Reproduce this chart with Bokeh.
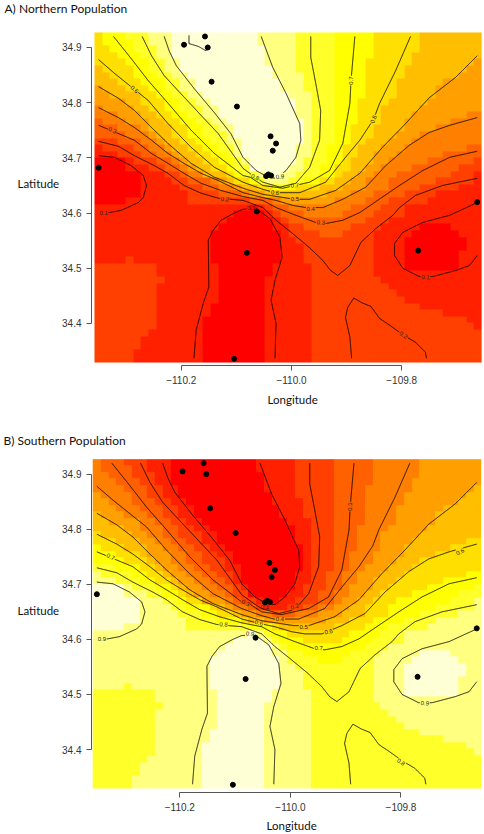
from bokeh.plotting import figure
from bokeh.models import Range1d, LinearColorMapper, FixedTicker, Label
from bokeh.layouts import column
from bokeh.core.properties import value
from bokeh.embed import file_html
from bokeh.resources import INLINE
import numpy as np

PALETTE = ["#FF0000","#FF2000","#FF4000","#FF6000","#FF8000","#FF9F00","#FFBF00","#FFDF00","#FFFF00","#FFFF2A","#FFFF80","#FFFFD5"]
LON_EXTENT = (-110.3575, -109.655)
LAT_EXTENT = (34.3293, 34.9272)
LON_TICKS = [-110.2, -110.0, -109.8]
LON_TICK_LABELS = ["\u2212110.2", "\u2212110.0", "\u2212109.8"]
LAT_TICKS = [34.4, 34.5, 34.6, 34.7, 34.8, 34.9]
LAT_TICK_LABELS = ["34.4", "34.5", "34.6", "34.7", "34.8", "34.9"]

# rows top to bottom; "class:end column"
NORTH_ROWS = [
"7:1 8:4 9:7 10:10 11:21 10:26 9:31 8:36 7:42 6:50",
"7:1 8:5 9:7 10:10 11:21 10:26 9:31 8:36 7:42 6:50",
"7:2 8:5 9:8 10:10 11:22 10:26 9:31 8:36 7:42 6:50",
"7:3 8:6 9:8 10:10 11:22 10:26 9:31 8:36 7:41 6:50",
"7:4 8:7 9:9 10:11 11:22 10:26 9:31 8:35 7:41 6:49 5:50",
"6:1 7:5 8:7 9:9 10:11 11:23 10:26 9:31 8:35 7:40 6:48 5:50",
"6:2 7:5 8:8 9:10 10:12 11:23 10:27 9:31 8:35 7:40 6:47 5:50",
"6:3 7:6 8:9 9:11 10:13 11:24 10:27 9:31 8:35 7:39 6:45 5:50",
"5:1 6:4 7:7 8:9 9:11 10:13 11:24 10:27 9:31 8:35 7:39 6:44 5:50",
"5:2 6:6 7:8 8:10 9:12 10:14 11:25 10:28 9:31 8:35 7:39 6:44 5:50",
"5:4 6:6 7:9 8:11 9:13 10:15 11:26 10:28 9:31 8:34 7:38 6:43 5:50",
"4:1 5:5 6:7 7:9 8:11 9:14 10:16 11:26 10:28 9:31 8:34 7:37 6:42 5:50",
"4:3 5:6 6:8 7:10 8:12 9:14 10:16 11:26 10:28 9:31 8:34 7:37 6:41 5:48 4:50",
"3:1 4:4 5:7 6:9 7:11 8:13 9:15 10:17 11:27 10:28 9:31 8:34 7:37 6:40 5:46 4:50",
"3:3 4:6 5:7 6:10 7:12 8:14 9:16 10:18 11:27 10:28 9:31 8:33 7:36 6:40 5:44 4:50",
"3:4 4:7 5:8 6:10 7:12 8:14 9:17 10:18 11:27 10:28 9:31 8:33 7:36 6:39 5:42 4:50",
"2:3 3:6 4:8 5:9 6:11 7:13 8:15 9:17 10:19 11:27 10:28 9:31 8:33 7:35 6:38 5:41 4:50",
"1:1 2:5 3:7 4:9 5:10 6:12 7:14 8:16 9:18 10:19 11:26 10:28 9:30 8:32 7:34 6:37 5:40 4:48 3:50",
"1:3 2:6 3:8 4:10 5:11 6:13 7:15 8:17 9:18 10:19 11:26 10:28 9:30 8:32 7:34 6:36 5:39 4:45 3:50",
"0:4 1:5 2:8 3:10 4:11 5:12 6:14 7:16 8:18 9:19 10:20 11:26 10:27 9:30 8:32 7:33 6:36 5:38 4:43 3:49 2:50",
"0:4 1:7 2:9 3:11 4:12 5:13 6:15 7:17 8:18 9:20 11:25 10:27 9:29 8:31 7:33 6:35 5:37 4:41 3:47 2:50",
"0:6 1:9 2:11 3:12 4:14 6:17 7:18 8:19 9:21 10:22 11:24 10:26 9:29 8:31 7:32 6:34 5:36 4:39 3:46 2:49 1:50",
"0:6 1:10 2:12 3:15 4:16 5:17 6:18 7:20 8:21 9:22 10:25 9:27 8:29 7:31 6:33 5:35 4:38 3:44 2:49 1:50",
"0:6 1:11 2:14 3:16 4:18 5:19 6:21 7:23 8:26 7:29 6:32 5:35 4:38 3:42 2:47 1:50",
"0:6 1:12 2:16 3:19 4:20 5:22 6:30 5:33 4:36 3:40 2:44 1:50",
"0:4 1:12 2:20 3:23 4:24 5:31 4:35 3:38 2:43 1:50",
"1:20 0:21 1:22 2:23 3:25 4:33 3:37 2:40 1:50",
"1:18 0:22 1:23 2:24 3:27 4:32 3:36 2:40 1:50",
"1:17 0:23 1:24 2:25 3:35 2:38 1:50",
"1:16 0:23 1:25 2:27 3:33 2:37 1:42 0:46 1:50",
"1:15 0:24 1:25 2:29 3:32 2:36 1:41 0:47 1:50",
"1:15 0:24 1:26 2:36 1:40 0:48 1:50",
"1:15 0:24 1:27 2:36 1:40 0:48 1:50",
"1:15 0:24 1:27 2:36 1:40 0:47 1:50",
"1:4 2:5 1:15 0:24 1:27 2:36 1:40 0:47 1:50",
"2:8 1:16 0:23 1:28 2:36 1:40 0:47 1:50",
"2:8 1:16 0:23 1:28 2:36 1:50",
"2:9 1:16 0:22 1:28 2:37 1:50",
"2:8 1:16 0:22 1:28 2:38 1:50",
"2:8 1:16 0:22 1:28 2:39 1:50",
"2:8 1:16 0:22 1:28 2:40 1:50",
"2:8 1:15 0:22 1:28 2:42 1:50",
"2:8 1:15 0:22 1:28 2:45 1:50",
"2:8 1:14 0:22 1:28 2:48 1:50",
"2:8 1:14 0:22 1:28 2:49 1:50",
"2:7 1:14 0:22 1:28 2:50",
"2:6 1:14 0:22 1:28 2:50",
"2:6 1:14 0:22 1:28 2:50",
"2:5 1:14 0:22 1:28 2:50",
"2:5 1:14 0:22 1:28 2:50",
]
SOUTH_ROWS = [
"4:1 3:4 2:7 1:10 0:21 1:26 2:31 3:36 4:42 5:50",
"4:1 3:5 2:7 1:10 0:21 1:26 2:31 3:36 4:42 5:50",
"4:2 3:5 2:8 1:10 0:22 1:26 2:31 3:36 4:42 5:50",
"4:3 3:6 2:8 1:10 0:22 1:26 2:31 3:36 4:41 5:50",
"4:4 3:7 2:9 1:11 0:22 1:26 2:31 3:35 4:41 5:49 6:50",
"5:1 4:5 3:7 2:9 1:11 0:23 1:26 2:31 3:35 4:40 5:48 6:50",
"5:2 4:5 3:8 2:10 1:12 0:23 1:27 2:31 3:35 4:40 5:47 6:50",
"5:3 4:6 3:9 2:11 1:13 0:24 1:27 2:31 3:35 4:39 5:45 6:50",
"6:1 5:4 4:7 3:9 2:11 1:13 0:24 1:27 2:31 3:35 4:39 5:44 6:50",
"6:2 5:6 4:8 3:10 2:12 1:14 0:25 1:28 2:31 3:35 4:39 5:44 6:50",
"6:4 5:6 4:9 3:11 2:13 1:15 0:26 1:28 2:31 3:34 4:38 5:43 6:50",
"7:1 6:5 5:7 4:9 3:11 2:14 1:16 0:26 1:28 2:31 3:34 4:37 5:42 6:50",
"7:3 6:6 5:8 4:10 3:12 2:14 1:16 0:26 1:28 2:31 3:34 4:37 5:41 6:48 7:50",
"8:1 7:4 6:7 5:9 4:11 3:13 2:15 1:17 0:27 1:28 2:31 3:34 4:37 5:40 6:46 7:50",
"8:3 7:6 6:7 5:10 4:12 3:14 2:16 1:18 0:27 1:28 2:31 3:33 4:36 5:40 6:44 7:50",
"8:4 7:7 6:8 5:10 4:12 3:14 2:17 1:18 0:27 1:28 2:31 3:33 4:36 5:39 6:42 7:50",
"9:3 8:6 7:8 6:9 5:11 4:13 3:15 2:17 1:19 0:27 1:28 2:31 3:33 4:35 5:38 6:41 7:50",
"10:1 9:5 8:7 7:9 6:10 5:12 4:14 3:16 2:18 1:19 0:26 1:28 2:30 3:32 4:34 5:37 6:40 7:48 8:50",
"10:3 9:6 8:8 7:10 6:11 5:13 4:15 3:17 2:18 1:19 0:26 1:28 2:30 3:32 4:34 5:36 6:39 7:45 8:50",
"11:4 10:5 9:8 8:10 7:11 6:12 5:14 4:16 3:18 2:19 1:20 0:26 1:27 2:30 3:32 4:33 5:36 6:38 7:43 8:49 9:50",
"11:4 10:7 9:9 8:11 7:12 6:13 5:15 4:17 3:18 2:20 0:25 1:27 2:29 3:31 4:33 5:35 6:37 7:41 8:47 9:50",
"11:6 10:9 9:11 8:12 7:14 5:17 4:18 3:19 2:21 1:22 0:24 1:26 2:29 3:31 4:32 5:34 6:36 7:39 8:46 9:49 10:50",
"11:6 10:10 9:12 8:15 7:16 6:17 5:18 4:20 3:21 2:22 1:25 2:27 3:29 4:31 5:33 6:35 7:38 8:44 9:49 10:50",
"11:6 10:11 9:14 8:16 7:18 6:19 5:21 4:23 3:26 4:29 5:32 6:35 7:38 8:42 9:47 10:50",
"11:6 10:12 9:16 8:19 7:20 6:22 5:30 6:33 7:36 8:40 9:44 10:50",
"11:4 10:12 9:20 8:23 7:24 6:31 7:35 8:38 9:43 10:50",
"10:20 11:21 10:22 9:23 8:25 7:33 8:37 9:40 10:50",
"10:18 11:22 10:23 9:24 8:27 7:32 8:36 9:40 10:50",
"10:17 11:23 10:24 9:25 8:35 9:38 10:50",
"10:16 11:23 10:25 9:27 8:33 9:37 10:42 11:46 10:50",
"10:15 11:24 10:25 9:29 8:32 9:36 10:41 11:47 10:50",
"10:15 11:24 10:26 9:36 10:40 11:48 10:50",
"10:15 11:24 10:27 9:36 10:40 11:48 10:50",
"10:15 11:24 10:27 9:36 10:40 11:47 10:50",
"10:4 9:5 10:15 11:24 10:27 9:36 10:40 11:47 10:50",
"9:8 10:16 11:23 10:28 9:36 10:40 11:47 10:50",
"9:8 10:16 11:23 10:28 9:36 10:50",
"9:9 10:16 11:22 10:28 9:37 10:50",
"9:8 10:16 11:22 10:28 9:38 10:50",
"9:8 10:16 11:22 10:28 9:39 10:50",
"9:8 10:16 11:22 10:28 9:40 10:50",
"9:8 10:15 11:22 10:28 9:42 10:50",
"9:8 10:15 11:22 10:28 9:45 10:50",
"9:8 10:14 11:22 10:28 9:48 10:50",
"9:8 10:14 11:22 10:28 9:49 10:50",
"9:7 10:14 11:22 10:28 9:50",
"9:6 10:14 11:22 10:28 9:50",
"9:6 10:14 11:22 10:28 9:50",
"9:5 10:14 11:22 10:28 9:50",
"9:5 10:14 11:22 10:28 9:50",
]

SITE_LON = [-110.195,-110.157,-110.152,-110.145,-110.099,-110.350,-110.038,-110.028,-110.034,-110.046,-110.042,-110.037,-109.663,-110.063,-110.081,-109.770,-110.104]
SITE_LAT = [34.905,34.920,34.900,34.838,34.793,34.682,34.739,34.726,34.713,34.667,34.670,34.668,34.620,34.603,34.528,34.532,34.336]

LON_01A = [-110.350,-110.321,-110.291,-110.269,-110.263,-110.269,-110.278,-110.309,-110.330,-110.350]
LAT_01A = [34.704,34.701,34.686,34.668,34.650,34.628,34.619,34.605,34.601,34.600]
LON_01B = [-110.177,-110.173,-110.160,-110.150,-110.151,-110.142,-110.128,-110.104,-110.088,-110.064,-110.039,-110.021,-110.017,-110.030,-110.037,-110.028,-110.030]
LAT_01B = [34.337,34.388,34.437,34.466,34.551,34.569,34.587,34.600,34.607,34.608,34.590,34.556,34.520,34.478,34.442,34.400,34.337]
LON_01C = [-109.663,-109.713,-109.762,-109.798,-109.813,-109.813,-109.798,-109.768,-109.744,-109.702,-109.677,-109.663]
LAT_01C = [34.619,34.596,34.583,34.565,34.545,34.523,34.500,34.485,34.485,34.496,34.505,34.523]
LON_02A = [-110.350,-110.314,-110.285,-110.249,-110.224,-110.195,-110.164,-110.133,-110.088,-110.052,-110.028,-109.998,-109.968,-109.943,-109.929,-109.916,-109.894,-109.874,-109.847,-109.816,-109.804,-109.775,-109.726,-109.663]
LAT_02A = [34.730,34.721,34.704,34.686,34.672,34.650,34.636,34.627,34.623,34.610,34.587,34.563,34.538,34.514,34.496,34.487,34.505,34.547,34.572,34.596,34.610,34.632,34.650,34.663]
LON_02B = [-109.891,-109.894,-109.902,-109.898,-109.887,-109.871,-109.856,-109.840,-109.822,-109.797,-109.775,-109.757,-109.755]
LAT_02B = [34.337,34.375,34.411,34.429,34.446,34.437,34.431,34.409,34.397,34.379,34.366,34.348,34.337]
LON_03 = [-110.350,-110.285,-110.254,-110.224,-110.195,-110.164,-110.128,-110.088,-110.052,-110.028,-109.992,-109.956,-109.938,-109.907,-109.876,-109.838,-109.804,-109.762,-109.713,-109.663]
LAT_03 = [34.759,34.732,34.708,34.690,34.672,34.654,34.641,34.630,34.623,34.610,34.596,34.583,34.581,34.587,34.601,34.627,34.650,34.677,34.701,34.712]
LON_04 = [-110.350,-110.314,-110.285,-110.254,-110.224,-110.195,-110.164,-110.133,-110.088,-110.052,-110.028,-109.998,-109.974,-109.943,-109.907,-109.865,-109.829,-109.786,-109.750,-109.713,-109.663]
LAT_04 = [34.791,34.773,34.755,34.732,34.708,34.690,34.672,34.659,34.637,34.628,34.623,34.614,34.610,34.610,34.625,34.647,34.686,34.723,34.746,34.759,34.773]
LON_05 = [-110.350,-110.314,-110.285,-110.254,-110.224,-110.182,-110.140,-110.088,-110.052,-109.994,-109.967,-109.920,-109.876,-109.835,-109.793,-109.750,-109.702,-109.663]
LAT_05 = [34.829,34.808,34.786,34.755,34.726,34.690,34.665,34.645,34.634,34.625,34.625,34.641,34.672,34.719,34.762,34.809,34.846,34.885]
LON_06 = [-110.350,-110.321,-110.285,-110.260,-110.224,-110.182,-110.140,-110.088,-110.052,-110.030,-109.985,-109.938,-109.902,-109.876,-109.851,-109.840,-109.811,-109.784]
LAT_06 = [34.878,34.853,34.824,34.804,34.762,34.719,34.683,34.656,34.643,34.637,34.637,34.656,34.701,34.732,34.770,34.799,34.858,34.920]
LON_07 = [-110.323,-110.291,-110.260,-110.224,-110.182,-110.140,-110.088,-110.075,-110.052,-110.016,-109.967,-109.931,-109.907,-109.894,-109.892,-109.885]
LAT_07 = [34.920,34.880,34.840,34.799,34.750,34.708,34.668,34.665,34.650,34.645,34.656,34.677,34.726,34.799,34.840,34.920]
LON_08 = [-110.271,-110.254,-110.231,-110.206,-110.164,-110.133,-110.088,-110.066,-110.052,-110.021,-109.992,-109.967,-109.949,-109.947,-109.956,-109.965,-109.965]
LAT_08 = [34.920,34.885,34.849,34.822,34.777,34.744,34.681,34.665,34.656,34.647,34.654,34.683,34.732,34.786,34.835,34.882,34.920]
LON_09 = [-110.231,-110.222,-110.209,-110.177,-110.140,-110.110,-110.088,-110.064,-110.043,-110.028,-110.010,-109.992,-109.983,-109.985,-110.010,-110.034,-110.055]
LAT_09 = [34.920,34.894,34.867,34.826,34.782,34.744,34.701,34.677,34.665,34.663,34.677,34.701,34.732,34.762,34.817,34.864,34.920]
LON_10 = [-110.186,-110.186,-110.169,-110.155,-110.150]
LAT_10 = [34.922,34.907,34.902,34.894,34.900]

LINES_LON = [LON_01A,LON_01B,LON_01C,LON_02A,LON_02B,LON_03,LON_04,LON_05,LON_06,LON_07,LON_08,LON_09,LON_10]
LINES_LAT = [LAT_01A,LAT_01B,LAT_01C,LAT_02A,LAT_02B,LAT_03,LAT_04,LAT_05,LAT_06,LAT_07,LAT_08,LAT_09,LAT_10]

NORTH_LABEL_TEXT = ["0.1","0.2","0.3","0.6","0.7","0.6","0.8","0.9","0.7","0.6","0.5","0.4","0.3","0.1","0.1","0.2"]
NORTH_LABEL_LON = [-110.341,-110.121,-110.325,-110.285,-109.892,-109.851,-110.066,-110.021,-109.994,-110.030,-109.994,-109.965,-109.947,-110.073,-109.757,-109.797]
NORTH_LABEL_LAT = [34.600,34.625,34.750,34.824,34.840,34.770,34.665,34.666,34.650,34.637,34.625,34.608,34.583,34.610,34.484,34.379]
NORTH_LABEL_ANGLE = [0,-3,-25,-40,90,70,-25,5,5,-5,0,0,-3,0,-3,-35]
NORTH_LABEL_LINE = [0,3,5,8,9,8,10,11,9,8,7,6,5,1,2,4]

SOUTH_LABEL_TEXT = ["0.7","0.8","0.9","0.3","0.4","0.5","0.6","0.2","0.1","0.3","0.6","0.9","0.6","0.7","0.9","0.8"]
SOUTH_LABEL_LON = [-110.325,-110.121,-110.341,-109.892,-110.019,-109.976,-109.693,-109.992,-110.046,-110.081,-110.057,-110.073,-109.931,-109.949,-109.757,-109.800]
SOUTH_LABEL_LAT = [34.750,34.627,34.600,34.841,34.637,34.623,34.759,34.660,34.659,34.666,34.630,34.610,34.614,34.585,34.484,34.377]
SOUTH_LABEL_ANGLE = [-25,-3,0,90,-5,0,25,20,0,-25,-15,-5,12,0,-5,-35]
SOUTH_LABEL_LINE = [5,3,0,9,8,7,6,10,11,9,6,1,6,5,2,4]


def expand(rows):
    out = []
    for row in rows:
        cells, start = [0] * 50, 0
        for part in row.split():
            c, end = part.split(":")
            for i in range(start, int(end)):
                cells[i] = int(c)
            start = int(end)
        out.append(cells)
    return np.array(out[::-1], dtype=float)


def cut(lon, lat, anchors, radius=0.0085):
    """split a contour where its printed label sits"""
    xs, ys = [], []
    for i in range(len(lon) - 1):
        n = max(2, int(np.hypot(lon[i+1]-lon[i], lat[i+1]-lat[i]) / 0.001))
        xs.extend(np.linspace(lon[i], lon[i+1], n, endpoint=False))
        ys.extend(np.linspace(lat[i], lat[i+1], n, endpoint=False))
    xs.append(lon[-1]); ys.append(lat[-1])
    xs, ys = np.array(xs), np.array(ys)
    keep = np.ones(len(xs), bool)
    for ax, ay in anchors:
        keep &= np.hypot(xs-ax, ys-ay) > radius
    return np.where(keep, xs, np.nan), np.where(keep, ys, np.nan)


def panel(rows, title, lt, llon, llat, lang, lline, nlines, height, top, bottom, left, xr, yr, titlepos, latpos, lonpos):
    p = figure(width=484, height=height, output_backend="svg", toolbar_location=None,
               x_range=Range1d(*xr), y_range=Range1d(*yr),
               min_border_left=left, min_border_right=2, min_border_top=top, min_border_bottom=bottom)
    p.outline_line_color = None
    p.grid.visible = False
    p.background_fill_color = "white"
    mapper = LinearColorMapper(palette=PALETTE, low=-0.5, high=11.5)
    p.image(image=[expand(rows)], x=LON_EXTENT[0], y=LAT_EXTENT[0],
            dw=LON_EXTENT[1]-LON_EXTENT[0], dh=LAT_EXTENT[1]-LAT_EXTENT[0], color_mapper=mapper)
    for i in range(nlines):
        anchors = [(a, b) for a, b, k in zip(llon, llat, lline) if k == i]
        x, y = cut(LINES_LON[i], LINES_LAT[i], anchors)
        p.line(x, y, line_color="black", line_width=0.9)
    p.text(llon, llat, text=lt, angle=lang, angle_units="deg", text_font=value("Liberation Sans"),
           text_font_size="6px", text_align="center", text_baseline="middle", text_color="#222222")
    p.scatter(SITE_LON, SITE_LAT, size=5, color="black")
    for ax, ticks, labels in ((p.xaxis[0], LON_TICKS, LON_TICK_LABELS), (p.yaxis[0], LAT_TICKS, LAT_TICK_LABELS)):
        ax.ticker = FixedTicker(ticks=ticks)
        ax.major_label_overrides = dict(zip(ticks, labels))
        ax.minor_tick_line_color = None
        ax.major_tick_in = 0
        ax.major_tick_out = 5
        ax.major_tick_line_color = "#555555"
        ax.axis_line_color = "#555555"
        ax.major_label_text_font = "Liberation Sans"
        ax.major_label_text_font_size = "10px"
        ax.major_label_text_color = "#333333"
        ax.major_label_standoff = 5
        ax.bounds = (ticks[0], ticks[-1])
    for text, place, pos, size in ((title, "above", titlepos, "12px"), ("Latitude", "left", latpos, "11.5px"), ("Longitude", "below", lonpos, "11.5px")):
        p.add_layout(Label(x=pos[0], y=pos[1], x_units="screen", y_units="screen", text=text, text_font="Lato",
                           text_font_size=size, text_color="#111111", text_baseline="middle"), place)
    return p


pa = panel(NORTH_ROWS, "A) Northern Population", NORTH_LABEL_TEXT, NORTH_LABEL_LON, NORTH_LABEL_LAT, NORTH_LABEL_ANGLE,
           NORTH_LABEL_LINE, 13, 420, 18, 55, 90, (-110.3629, -109.6534), (34.3239, 34.9525), (-87, 10.5), (0, 182), (176, 0))
pb = panel(SOUTH_ROWS, "B) Southern Population", SOUTH_LABEL_TEXT, SOUTH_LABEL_LON, SOUTH_LABEL_LAT, SOUTH_LABEL_ANGLE,
           SOUTH_LABEL_LINE, 12, 414, 27, 42, 91, (-110.3597, -109.6526), (34.322, 34.9484), (-88, 7), (0, 182), (175, 1))

page = column(pa, pb, spacing=0, margin=(0, 0, 0, 0))
open("out.html", "w").write(file_html(page, INLINE))
